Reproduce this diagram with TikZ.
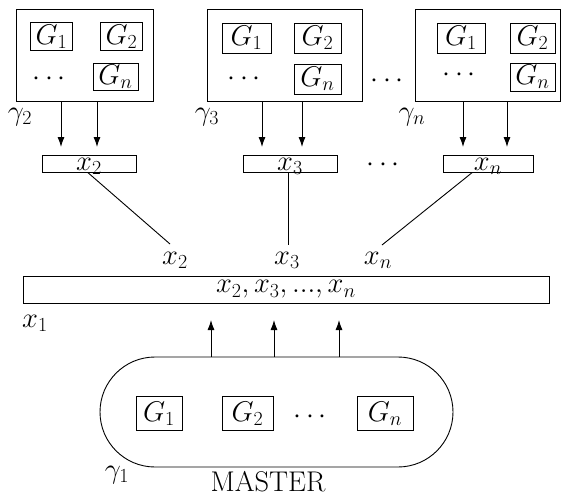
\RequirePackage{fix-cm}
\documentclass[tikz,border=0pt]{standalone}
\usetikzlibrary{arrows.meta}
\begin{document}
\begin{tikzpicture}[x=1pt,y=-1pt,
  every node/.style={font=\fontsize{28.5}{32}\selectfont},
  every path/.style={line width=0.9pt},
  bigbox/.style={draw,minimum height=92pt,inner sep=0pt},
  gbox/.style={draw,minimum height=28pt,minimum width=45pt,inner sep=0pt},
  mgbox/.style={draw,minimum height=34pt,inner sep=0pt},
  xbox/.style={draw,minimum height=16.5pt,inner sep=0pt,text height=12pt,text depth=0pt},
  arr/.style={-{Latex[length=10pt,width=7pt]}},
  lbl/.style={inner sep=0pt,anchor=base}]
\useasboundingbox (0,0) rectangle (566,496);
% gamma 2
\node[bigbox,minimum width=137pt] (b2) at (84.5,55) {};
\node[gbox,minimum width=42pt] (b2g1) at (51.5,36.5) {$G_1$};
\node[gbox,minimum width=42pt] (b2g2) at (121.5,36.5) {$G_2$};
\node[gbox,minimum width=45pt,minimum height=27pt] (b2gn) at (115.5,77) {$G_n$};
\node[lbl] (b2d) at (49,85) {$\cdots$};
\node[lbl] (g2) at (20,120) {$\gamma_2$};
% gamma 3
\node[bigbox,minimum width=155pt] (b3) at (284.5,55) {};
\node[gbox,minimum width=49pt,minimum height=30pt] (b3g1) at (246.5,38) {$G_1$};
\node[gbox,minimum width=47pt,minimum height=30pt] (b3g2) at (317.5,38) {$G_2$};
\node[gbox,minimum width=47pt,minimum height=30pt] (b3gn) at (317.5,79) {$G_n$};
\node[lbl] (b3d) at (244,85) {$\cdots$};
\node[lbl] (g3) at (207,120) {$\gamma_3$};
% gamma n
\node[bigbox,minimum width=145pt] (bn) at (487.5,55) {};
\node[gbox,minimum width=48pt,minimum height=30pt] (bng1) at (461,38) {$G_1$};
\node[gbox,minimum width=45pt,minimum height=30pt] (bng2) at (532.5,38) {$G_2$};
\node[gbox,minimum width=45pt,minimum height=28pt] (bngn) at (532.5,77) {$G_n$};
\node[lbl] (bnd) at (459,81) {$\cdots$};
\node[lbl] (gn) at (412,120) {$\gamma_n$};
\node[lbl] (topdots) at (387,87) {$\cdots$};
% x boxes
\node[xbox,minimum width=94pt] (x2) at (89,164) {$x_2$};
\node[xbox,minimum width=94pt] (x3) at (290,164) {$x_3$};
\node[xbox,minimum width=90pt] (xn) at (488,164) {$x_n$};
\node[lbl] (middots) at (383,171) {$\cdots$};
% arrows from boxes
\foreach \b/\xa/\xb in {b2/61/97, b3/262/302, bn/463/507}{
  \draw[arr] (\b.south -| \xa,0) -- (\xa,147);
  \draw[arr] (\b.south -| \xb,0) -- (\xb,147);
}
% lines to x1
\coordinate (e2) at (170,244);
\coordinate (e3) at (288,245);
\coordinate (en) at (382,245);
\draw (x2.south -| 88,0) -- (e2);
\draw (x3.south -| 288,0) -- (e3);
\draw (xn.south -| 472,0) -- (en);
\node[lbl] (l2) at (175,264.5) {$x_2$};
\node[lbl] (l3) at (287,264.5) {$x_3$};
\node[lbl] (ln) at (378,264.5) {$x_n$};
% big x1 box
\node[draw,minimum width=526pt,minimum height=27pt,inner sep=0pt] (x1) at (286,289.5) {$x_2, x_3, ..., x_n$};
\node[lbl] (l1) at (35,327) {$x_1$};
% master
\node[draw,rounded corners=55pt,minimum width=353pt,minimum height=110pt,inner sep=0pt] (m) at (276.5,412) {};
\node[mgbox,minimum width=46pt] (mg1) at (159,413.5) {$G_1$};
\node[mgbox,minimum width=51pt] (mg2) at (247.5,413.5) {$G_2$};
\node[mgbox,minimum width=56pt] (mgn) at (385,413.5) {$G_n$};
\node[lbl] (md) at (310,423) {$\cdots$};
\node[lbl] (g1) at (117,478) {$\gamma_1$};
\node[lbl] (master) at (268,491) {MASTER};
\foreach \xa in {211,274,339}{
  \draw[arr] (m.north -| \xa,0) -- (\xa,320);
}
\end{tikzpicture}
\end{document}
